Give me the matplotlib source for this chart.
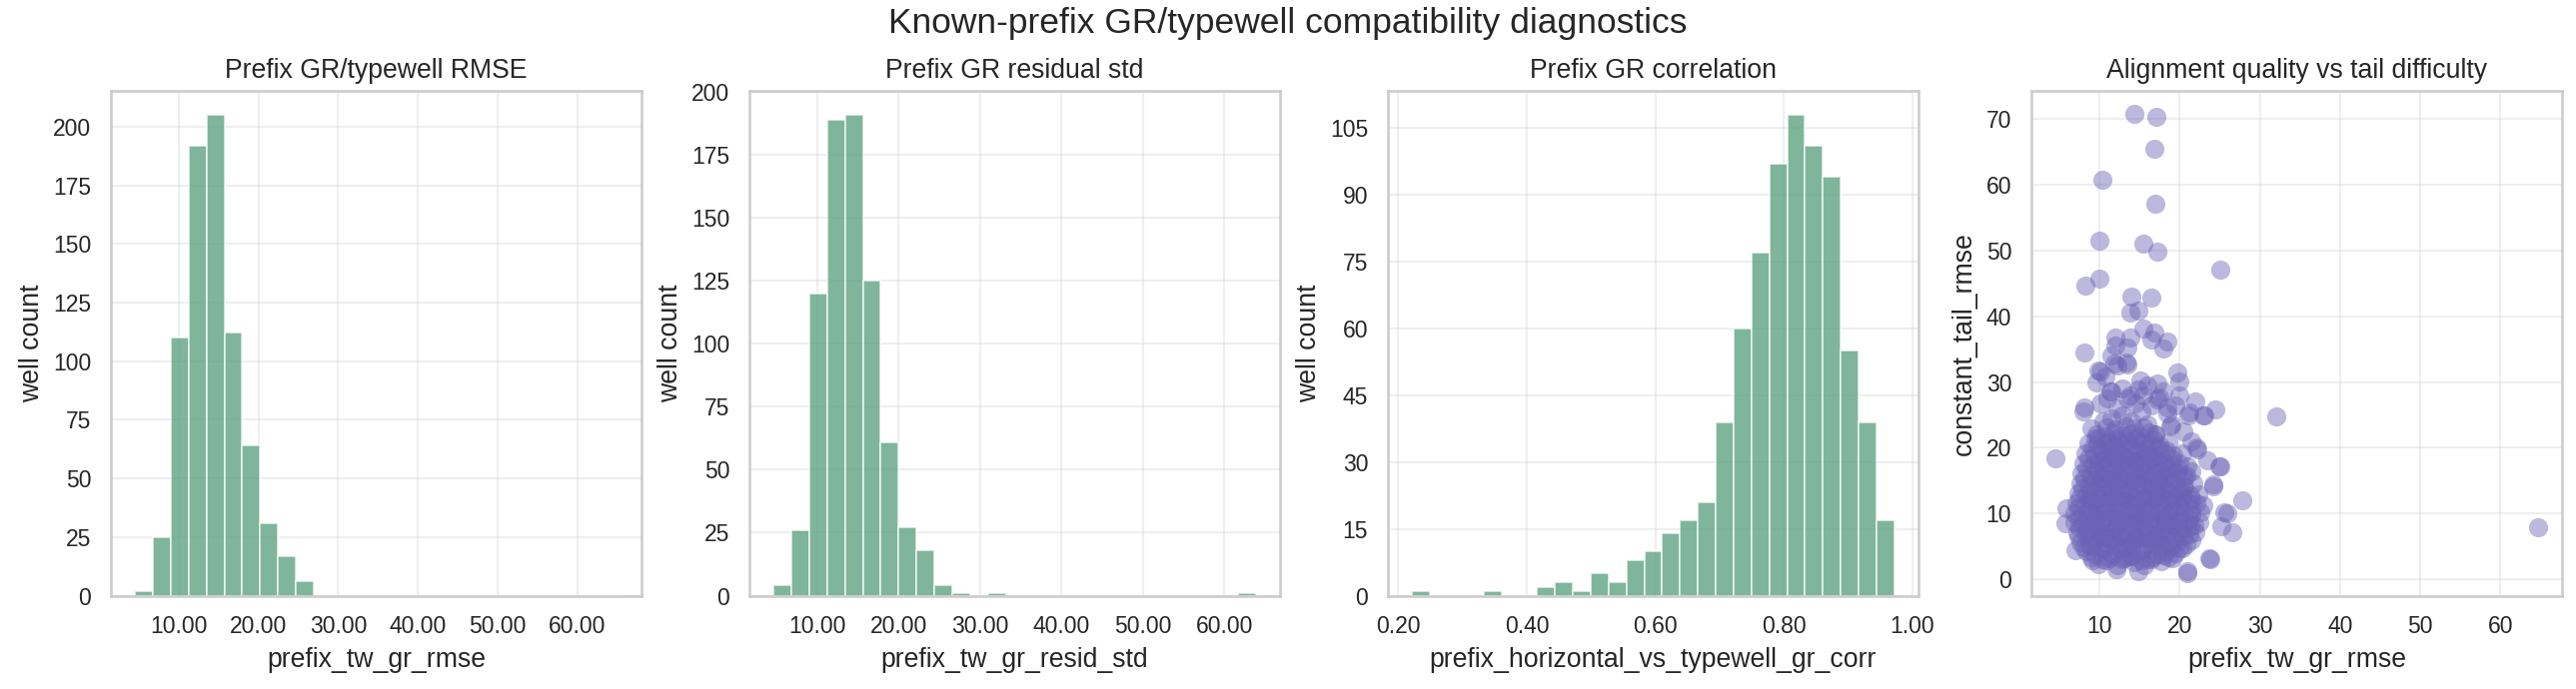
import numpy as np
import matplotlib
matplotlib.use("Agg")
import matplotlib.pyplot as plt
from matplotlib.ticker import MultipleLocator, FormatStrFormatter
import seaborn as sns

# ---------------- data ----------------
# Panel 1: prefix_tw_gr_rmse histogram (27 bins)
rmse_lo, rmse_hi = 4.55, 65.0
rmse_counts = [2, 25, 110, 192, 205, 112, 64, 31, 17, 6,
               0, 0, 0, 0, 0, 0, 0, 0, 0, 0, 0, 0, 0, 0, 0, 0, 0]

# Panel 2: prefix_tw_gr_resid_std histogram (27 bins)
resid_lo, resid_hi = 4.66, 63.9
resid_counts = [4, 26, 120, 189, 191, 125, 61, 27, 18, 4,
                1, 0, 1, 0, 0, 0, 0, 0, 0, 0, 0, 0, 0, 0, 0, 0, 1]

# Panel 3: prefix_horizontal_vs_typewell_gr_corr histogram (27 bins)
corr_lo, corr_hi = 0.2216, 0.9718
corr_counts = [1, 0, 0, 0, 1, 0, 0, 2, 3, 1, 5, 3, 8, 10, 14, 17, 21,
               39, 60, 77, 97, 108, 101, 94, 55, 39, 17]

# Panel 4: scatter prefix_tw_gr_rmse vs constant_tail_rmse
scatter_outer_x = [14.3, 17.1, 16.8, 10.3, 17.0, 10.0, 15.4, 17.2, 25.1, 10.0, 8.2, 13.9, 16.4,
                   13.8, 14.8, 15.5, 16.8, 16.4, 18.5, 18.0, 12.0, 13.8, 12.0, 13.5, 8.1, 11.5,
                   13.3, 12.2, 9.9, 10.7, 9.6, 11.5, 19.7, 20.0, 15.1, 17.2, 13.8, 14.8, 17.4,
                   20.0, 22.0, 21.2, 23.1, 24.4, 18.5, 8.1, 8.0, 10.1, 19.0, 32.0, 4.5, 25.1,
                   27.8, 24.2, 25.5, 26.6, 25.2, 23.7, 20.9, 14.8, 12.1, 64.7, 5.8, 5.7, 7.0,
                   9.1, 22.1, 23.4]
scatter_outer_y = [70.8, 70.4, 65.5, 60.8, 57.1, 51.5, 51.1, 49.9, 47.1, 45.8, 44.7, 43.0, 42.8,
                   40.6, 40.8, 38.1, 37.5, 36.4, 36.1, 35.1, 36.7, 36.7, 35.5, 35.2, 34.5, 34.0,
                   33.0, 32.5, 31.7, 30.9, 30.0, 28.5, 31.4, 30.1, 30.3, 29.8, 27.9, 28.8, 27.6,
                   28.0, 27.1, 25.4, 25.0, 25.9, 26.1, 26.1, 25.6, 26.8, 23.5, 24.7, 18.4, 17.2,
                   12.0, 14.5, 10.2, 7.1, 8.1, 3.2, 1.2, 1.3, 1.6, 7.9, 10.8, 8.5, 4.4,
                   2.9, 20.0, 18.1]

scatter_mid_x = [12.2, 11.4, 10.1, 11.8, 13.4, 13.4, 15.5, 17.2, 18.4, 18.8, 21.1, 23.0, 22.2,
                 24.9, 24.2, 25.9, 23.8, 20.9,
                 9.0, 10.5, 11.5, 12.8, 14.0, 15.2, 16.0, 17.0, 9.5, 16.5, 14.5, 12.8, 11.0,
                 16.0, 18.0, 19.5, 20.5, 21.5]
scatter_mid_y = [26.0, 28.5, 31.6, 32.8, 32.6, 27.5, 28.0, 27.3, 25.3, 23.2, 25.0, 25.0, 19.7,
                 17.2, 14.1, 10.1, 3.0, 1.0,
                 23.0, 24.0, 24.5, 25.0, 24.0, 25.5, 23.5, 22.0, 21.5, 26.5, 26.8, 29.0, 27.5,
                 29.5, 28.5, 26.5, 22.5, 21.0]

scatter_core_x = [
    9.8, 10.9, 12.2, 13.1, 14.3, 15.6, 16.4, 17.7, 18.6,
    8.3, 9.4, 10.6, 11.5, 12.7, 13.9, 14.8, 16.1, 17.2, 18.3, 19.4, 20.3,
    7.6, 8.7, 9.9, 10.8, 12.0, 13.2, 14.1, 15.3, 16.5, 17.6, 18.4, 19.7, 20.8, 21.4,
    7.2, 8.2, 9.3, 10.4, 11.3, 12.5, 13.6, 14.5, 15.8, 16.9, 17.8, 19.0, 20.1, 21.2, 22.0,
    6.9, 7.9, 9.0, 10.1, 11.0, 12.2, 13.3, 14.2, 15.4, 16.6, 17.5, 18.7, 19.8, 20.9, 21.8, 22.4,
    6.8, 7.8, 8.8, 9.7, 10.8, 11.9, 12.8, 14.0, 15.1, 16.0, 17.2, 18.3, 19.2, 20.4, 21.5, 22.6,
    7.1, 8.1, 9.2, 10.3, 11.4, 12.3, 13.5, 14.6, 15.5, 16.7, 17.8, 18.9, 19.9, 21.0, 22.1, 22.9,
    7.3, 8.4, 9.5, 10.5, 11.6, 12.7, 13.8, 14.7, 15.9, 17.0, 18.1, 19.0, 20.2, 21.3, 22.3,
    7.6, 8.6, 9.8, 10.9, 11.8, 13.0, 14.1, 15.2, 16.3, 17.3, 18.5, 19.5, 20.6, 21.7,
    7.7, 8.8, 9.9, 11.0, 12.1, 13.1, 14.3, 15.4, 16.4, 17.6, 18.7, 19.7, 20.8, 21.4,
    8.0, 9.1, 10.2, 11.3, 12.4, 13.4, 14.6, 15.7, 16.8, 17.9, 18.9, 20.0, 20.9,
    8.2, 9.3, 10.4, 11.6, 12.6, 13.7, 14.8, 15.9, 17.0, 18.1, 19.2, 20.3,
    8.6, 9.7, 10.8, 11.9, 13.0, 14.1, 15.2, 16.3, 17.4, 18.6,
    9.6, 10.7, 11.8, 12.9, 14.0, 15.1, 16.2, 17.0,
    10.2, 11.7, 13.0, 14.4, 15.9, 17.3, 9.5, 11.0, 12.5, 13.9, 15.3, 16.8, 18.2,
    9.8, 11.3, 12.8, 14.2, 15.7, 17.1, 18.6, 10.1, 11.6, 13.0, 14.5, 16.0, 17.4,
    10.5, 12.0, 13.4, 14.9, 16.3, 11.2, 13.6, 16.0, 12.3, 14.6, 19.6, 20.3, 8.7, 8.5]
scatter_core_y = [
    2.3, 2.9, 2.1, 3.2, 2.6, 2.2, 3.0, 2.7, 3.4,
    4.2, 3.8, 4.5, 3.9, 4.4, 3.7, 4.1, 4.6, 3.8, 4.3, 4.0, 4.7,
    5.7, 5.2, 5.9, 5.4, 5.6, 5.1, 5.8, 5.3, 5.9, 5.5, 5.2, 5.8, 5.4, 6.0,
    7.1, 6.8, 7.4, 6.9, 7.3, 7.0, 7.5, 6.7, 7.2, 6.9, 7.4, 7.0, 7.3, 6.8, 7.2,
    8.6, 8.3, 8.8, 8.4, 8.7, 8.2, 8.9, 8.5, 8.3, 8.8, 8.6, 8.4, 8.9, 8.5, 8.2, 8.7,
    10.1, 9.8, 10.4, 9.9, 10.3, 9.7, 10.5, 10.0, 9.8, 10.4, 10.1, 9.7, 10.3, 10.0, 9.9, 10.2,
    11.6, 11.3, 11.8, 11.4, 11.7, 11.2, 11.9, 11.5, 11.3, 11.8, 11.4, 11.6, 11.2, 11.7, 11.5, 11.3,
    13.1, 12.8, 13.4, 12.9, 13.3, 12.7, 13.2, 13.5, 12.8, 13.1, 13.4, 12.9, 13.2, 12.8, 13.0,
    14.6, 14.3, 14.8, 14.4, 14.7, 14.2, 14.9, 14.5, 14.3, 14.8, 14.4, 14.7, 14.2, 14.6,
    16.1, 15.8, 16.3, 15.9, 16.2, 15.7, 16.4, 16.0, 15.8, 16.3, 15.9, 16.2, 15.8, 16.4,
    17.6, 17.3, 17.8, 17.4, 17.7, 17.2, 17.9, 17.5, 17.3, 17.8, 17.4, 17.7, 17.2,
    19.1, 18.8, 19.3, 18.9, 19.2, 18.7, 19.4, 19.0, 18.8, 19.3, 18.9, 19.2,
    20.6, 20.3, 20.8, 20.4, 20.7, 20.2, 20.9, 20.5, 20.3, 20.8,
    22.1, 21.8, 22.3, 21.9, 22.2, 21.7, 22.4, 22.0,
    6.2, 6.4, 6.1, 6.3, 6.2, 6.4, 9.2, 9.4, 9.1, 9.3, 9.2, 9.4, 9.1,
    12.2, 12.4, 12.1, 12.3, 12.2, 12.4, 12.1, 15.2, 15.4, 15.1, 15.3, 15.2, 15.4,
    18.2, 18.4, 18.1, 18.3, 18.2, 3.2, 3.5, 3.1, 21.1, 21.3, 7.8, 12.5, 12.0, 7.6]

scatter_dense_x = [
    9.0, 10.3, 11.6, 12.9, 14.0, 15.2, 16.6, 17.9, 19.1,
    8.0, 9.2, 10.4, 11.7, 12.8, 14.0, 15.3, 16.4, 17.7, 18.9, 20.0,
    7.4, 8.6, 9.7, 11.0, 12.2, 13.4, 14.6, 15.7, 17.0, 18.2, 19.3, 20.5,
    7.5, 8.6, 9.8, 11.0, 12.1, 13.3, 14.4, 15.6, 16.8, 17.9, 19.1, 20.2, 21.3,
    7.3, 8.5, 9.6, 10.8, 12.0, 13.1, 14.3, 15.5, 16.6, 17.8, 19.0, 20.1, 21.2,
    7.4, 8.6, 9.7, 10.9, 12.1, 13.2, 14.4, 15.6, 16.7, 17.9, 19.0, 20.2, 21.4,
    7.5, 8.7, 9.8, 11.0, 12.2, 13.3, 14.5, 15.7, 16.8, 18.0, 19.2, 20.3, 21.5,
    7.8, 8.9, 10.1, 11.3, 12.4, 13.6, 14.8, 15.9, 17.1, 18.2, 19.4, 20.5,
    8.1, 9.2, 10.4, 11.5, 12.7, 13.9, 15.0, 16.2, 17.3, 18.5, 19.6, 20.6,
    8.3, 9.5, 10.6, 11.8, 13.0, 14.1, 15.3, 16.4, 17.6, 18.7, 19.8,
    8.6, 9.8, 11.0, 12.1, 13.3, 14.4, 15.6, 16.7, 17.9, 19.0,
    9.1, 10.3, 11.4, 12.6, 13.7, 14.9, 16.0, 17.2, 18.3,
    9.8, 11.0, 12.1, 13.3, 14.4, 15.6, 16.7,
    10.8, 12.0, 13.2, 14.3, 15.4]
scatter_dense_y = [
    3.4, 3.0, 3.6, 3.1, 3.5, 2.9, 3.3, 3.7, 3.2,
    4.9, 5.1, 4.7, 5.2, 4.8, 5.0, 4.6, 5.3, 4.9, 5.1, 4.8,
    6.5, 6.2, 6.6, 6.3, 6.7, 6.1, 6.4, 6.6, 6.2, 6.5, 6.3, 6.6,
    7.9, 8.1, 7.7, 8.0, 7.8, 8.2, 7.9, 7.6, 8.1, 7.8, 8.0, 7.7, 8.1,
    9.3, 9.1, 9.5, 9.2, 9.4, 9.0, 9.3, 9.5, 9.1, 9.4, 9.2, 9.5, 9.1,
    10.9, 10.6, 11.0, 10.7, 10.9, 10.5, 10.8, 11.0, 10.6, 10.9, 10.7, 11.0, 10.6,
    12.3, 12.1, 12.5, 12.2, 12.4, 12.0, 12.3, 12.5, 12.1, 12.4, 12.2, 12.5, 12.1,
    13.9, 13.6, 14.0, 13.7, 13.9, 13.5, 13.8, 14.0, 13.6, 13.9, 13.7, 14.0,
    15.4, 15.1, 15.5, 15.2, 15.4, 15.0, 15.3, 15.5, 15.1, 15.4, 15.2, 15.5,
    16.9, 16.6, 17.0, 16.7, 16.9, 16.5, 16.8, 17.0, 16.6, 16.9, 16.7,
    18.4, 18.1, 18.5, 18.2, 18.4, 18.0, 18.3, 18.5, 18.1, 18.4,
    19.9, 19.6, 20.0, 19.7, 19.9, 19.5, 19.8, 20.0, 19.6,
    21.4, 21.1, 21.5, 21.2, 21.4, 21.0, 21.3,
    23.1, 22.8, 23.2, 22.9, 23.1]

titles = ["Prefix GR/typewell RMSE", "Prefix GR residual std",
          "Prefix GR correlation", "Alignment quality vs tail difficulty"]
xlabels = ["prefix_tw_gr_rmse", "prefix_tw_gr_resid_std",
           "prefix_horizontal_vs_typewell_gr_corr", "prefix_tw_gr_rmse"]
ylabels = ["well count", "well count", "well count", "constant_tail_rmse"]
suptitle = "Known-prefix GR/typewell compatibility diagnostics"

# ---------------- style ----------------
sns.set_theme(style="whitegrid")
plt.rcParams["font.family"] = ["Liberation Sans", "DejaVu Sans"]

bar_color = (84 / 255, 158 / 255, 122 / 255)
pt_color = "#6b62b6"

W, H, DPI = 2578, 690, 150
fig = plt.figure(figsize=(W / DPI, H / DPI), dpi=DPI)

lefts_px = [111, 750, 1389, 2033]
ax_w_px = 531
top_px, bot_px = 91, 596.5
axes = []
for lp in lefts_px:
    axes.append(fig.add_axes([lp / W, 1 - bot_px / H, ax_w_px / W, (bot_px - top_px) / H]))

def hist_panel(ax, lo, hi, counts):
    n = len(counts)
    edges = np.linspace(lo, hi, n + 1)
    centers = 0.5 * (edges[:-1] + edges[1:])
    ax.hist(centers, bins=edges, weights=counts, color=bar_color, alpha=0.75,
            edgecolor="white", linewidth=0.8)

hist_panel(axes[0], rmse_lo, rmse_hi, rmse_counts)
hist_panel(axes[1], resid_lo, resid_hi, resid_counts)
hist_panel(axes[2], corr_lo, corr_hi, corr_counts)

sx = scatter_outer_x + scatter_mid_x + scatter_core_x + scatter_dense_x
sy = scatter_outer_y + scatter_mid_y + scatter_core_y + scatter_dense_y
axes[3].scatter(sx, sy, s=85, color=pt_color, alpha=0.45, linewidths=0)

axes[0].yaxis.set_major_locator(MultipleLocator(25))
axes[1].yaxis.set_major_locator(MultipleLocator(25))
axes[2].yaxis.set_major_locator(MultipleLocator(15))
for ax in axes[:3]:
    ax.xaxis.set_major_formatter(FormatStrFormatter("%.2f"))

for ax, t, xl, yl in zip(axes, titles, xlabels, ylabels):
    ax.set_title(t, fontsize=12.8)
    ax.set_xlabel(xl, fontsize=12.8)
    ax.set_ylabel(yl, fontsize=12.8)
    ax.tick_params(labelsize=11)
    ax.grid(True, alpha=0.3)
    for sp in ax.spines.values():
        sp.set_color("#cccccc")
        sp.set_linewidth(1.25)

fig.suptitle(suptitle, fontsize=17, y=0.99)

fig.savefig("out.png", dpi=DPI)
